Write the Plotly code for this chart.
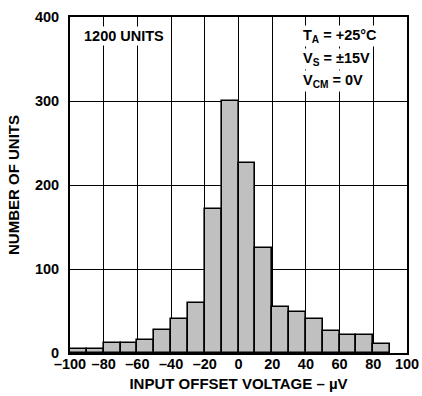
import plotly.graph_objects as go

bin_left = [-100, -90, -80, -70, -60, -50, -40, -30, -20, -10, 0, 10, 20, 30, 40, 50, 60, 70, 80]
counts = [5, 5, 12, 12, 15, 27, 40, 60, 172, 300, 226, 125, 55, 49, 41, 26, 21, 21, 11]
x_ticks = [-100, -80, -60, -40, -20, 0, 20, 40, 60, 80, 100]
x_tick_text = ["\u2013100", "\u201380", "\u201360", "\u201340", "\u201320", "0", "20", "40", "60", "80", "100"]
y_ticks = [0, 100, 200, 300, 400]

FONT = "Liberation Sans, Arial, sans-serif"

fig = go.Figure()
fig.add_trace(go.Bar(
    x=[b + 5 for b in bin_left], y=counts, width=10,
    marker=dict(color="#c0c0c0", line=dict(color="black", width=1.6)),
    showlegend=False,
))

fig.update_layout(
    width=422, height=396,
    margin=dict(l=70, r=15, t=17, b=43),
    paper_bgcolor="white", plot_bgcolor="white",
    font=dict(family=FONT, size=14, color="black"),
    bargap=0,
)
fig.update_xaxes(
    range=[-100, 100], tickvals=x_ticks, ticktext=x_tick_text,
    showgrid=True, gridcolor="black", gridwidth=1,
    showline=True, linecolor="black", linewidth=2, mirror=True,
    ticks="", zeroline=False, ticklabelstandoff=-3, automargin=False,
    tickfont=dict(family=FONT, size=14.5, color="black", weight="bold"),
    title=dict(text="<b>INPUT OFFSET VOLTAGE \u2013 \u00b5V</b>", font=dict(size=15), standoff=7),
)
fig.update_yaxes(
    range=[0, 400], tickvals=y_ticks,
    showgrid=True, gridcolor="black", gridwidth=1,
    showline=True, linecolor="black", linewidth=2, mirror=True,
    ticks="", zeroline=False, ticklabelstandoff=6, automargin=False,
    tickfont=dict(family=FONT, size=14.5, color="black", weight="bold"),
    title=dict(text="<b>NUMBER OF UNITS</b>", font=dict(size=15), standoff=12),
)

def ann(text, x, y):
    fig.add_annotation(
        text=text, xref="paper", yref="paper", x=x, y=y,
        xanchor="left", yanchor="middle", showarrow=False,
        font=dict(family=FONT, size=14.5, color="black", weight="bold"),
        bgcolor="white", borderpad=1,
    )

ann("1200 UNITS", (82 - 70) / 337, (353 - 36) / 336)
ann("T<sub>A</sub> = +25\u00b0C", (301 - 70) / 337, (353 - 36) / 336)
ann("V<sub>S</sub> = \u00b115V", (301 - 70) / 337, (353 - 59) / 336)
ann("V<sub>CM</sub> = 0V", (301 - 70) / 337, (353 - 81) / 336)

fig.write_html("out.html")
